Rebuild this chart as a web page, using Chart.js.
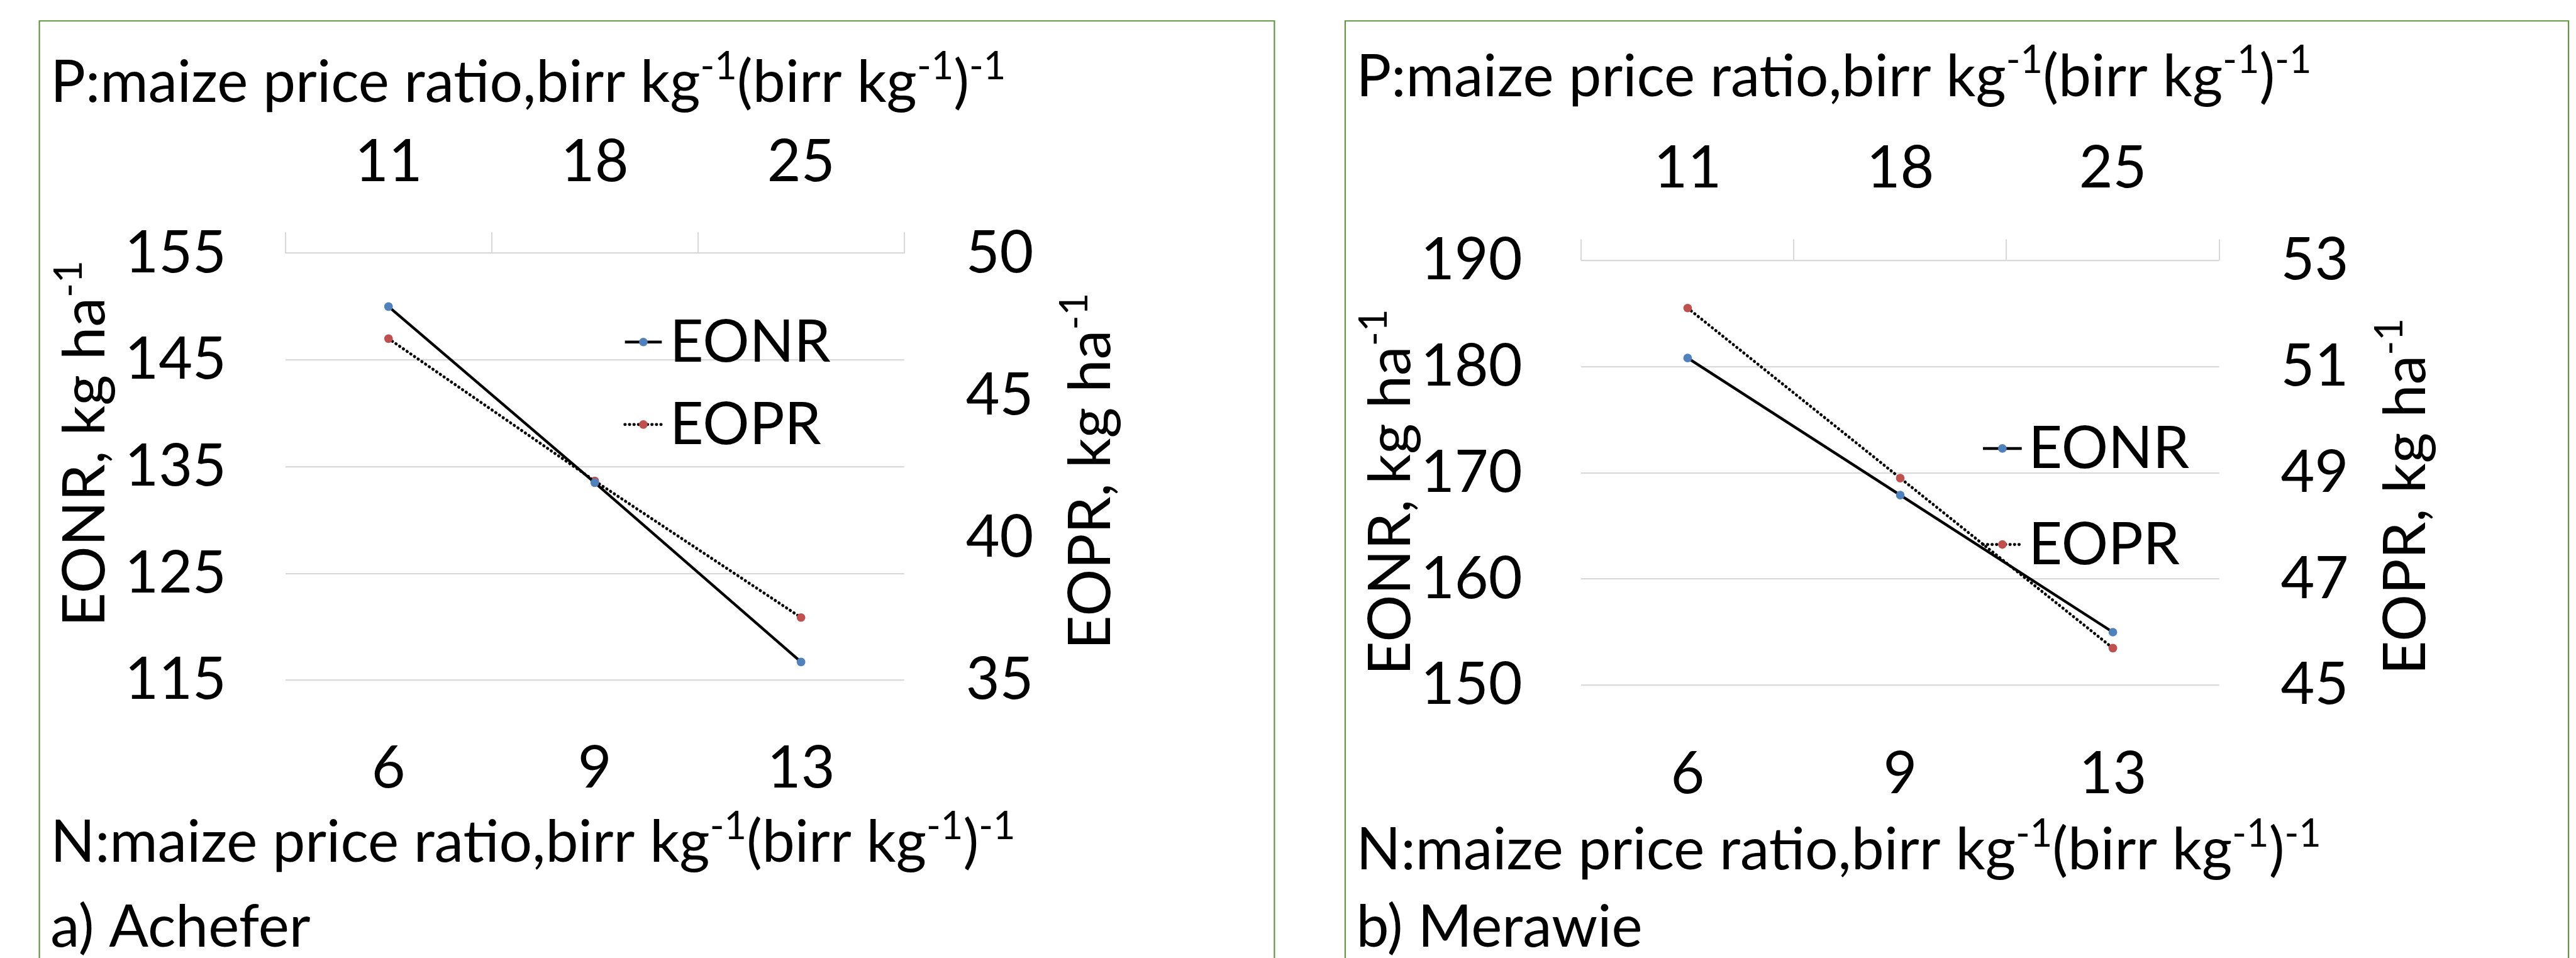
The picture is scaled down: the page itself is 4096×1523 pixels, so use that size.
<!DOCTYPE html>
<html>
<head>
<meta charset="utf-8">
<script src="https://cdn.jsdelivr.net/npm/chart.js@4.4.1/dist/chart.umd.min.js"></script>
<style>
html,body{margin:0;padding:0;background:#fff;width:4096px;height:1523px;overflow:hidden;}
canvas{position:absolute;top:0;}
</style>
</head>
<body>
<canvas id="ca"></canvas>
<canvas id="cb"></canvas>
<script>
// ---------------- data ----------------
const nRatios = ['6', '9', '13'];          // bottom axis: N:maize price ratio
const pRatios = ['11', '18', '25'];        // top axis: P:maize price ratio
const seriesNames = ['EONR', 'EOPR'];

const achEONR = [150.0, 133.5, 116.7];
const achEOPR = [47.0, 42.0, 37.2];
const merEONR = [180.8, 167.9, 155.0];
const merEOPR = [52.1, 48.9, 45.7];

const achLeftTicks = [115, 125, 135, 145, 155];
const achRightTicks = [35, 40, 45, 50];
const merLeftTicks = [150, 160, 170, 180, 190];
const merRightTicks = [45, 47, 49, 51, 53];

const topAxisTitle = [['P:maize price ratio,birr kg', 0], ['-1', 1], ['(birr kg', 0], ['-1', 1], [')', 0], ['-1', 1]];
const bottomAxisTitle = [['N:maize price ratio,birr kg', 0], ['-1', 1], ['(birr kg', 0], ['-1', 1], [')', 0], ['-1', 1]];
const leftAxisTitle = [['EONR, kg ha', 0], ['-1', 1]];
const rightAxisTitle = [['EOPR, kg ha', 0], ['-1', 1]];
const captionA = 'a) Achefer';
const captionB = 'b) Merawie';

// ---------------- layout (reference pixels) ----------------
const S = 0.978;
const H = 1523;
const SPLIT = 2073; // page px where canvas b starts
const FONT = 'Lato, "Open Sans", sans-serif';
const MAINF = 95;
const AXF = 96;

const layoutA = {
  box: [64, 34, 2072], area: [464, 411.6, 1470, 1105.6],
  titleX: 82, titleBase: 166, xTitleBase: 1401, capBase: 1539,
  lTitle: [170, 721], rTitle: [1805, 766],
  legX: [1016, 1076, 1089], legY: [556, 690], topPad: 57, botPad: 79
};
const layoutB = {
  box: [2187, 34, 4176], area: [2571, 423, 3608, 1114],
  titleX: 2205, titleBase: 156, xTitleBase: 1413, capBase: 1539,
  lTitle: [2292, 800], rTitle: [3943, 807],
  legX: [3224, 3287, 3298], legY: [729, 885], topPad: 58, botPad: 80
};

function drawRich(ctx, segs, x, y, size, align) {
  const supScale = 0.66, supRise = 0.39;
  const widths = segs.map(([t, sup]) => {
    ctx.font = (sup ? size * supScale : size) + 'px ' + FONT;
    return ctx.measureText(t).width;
  });
  const total = widths.reduce((a, b) => a + b, 0);
  let cx = align === 'center' ? x - total / 2 : x;
  ctx.textAlign = 'left';
  ctx.textBaseline = 'alphabetic';
  segs.forEach(([t, sup], i) => {
    ctx.font = (sup ? size * supScale : size) + 'px ' + FONT;
    ctx.fillText(t, cx, sup ? y - size * supRise : y);
    cx += widths[i];
  });
}

function makeChart(id, leftPx, widthPx, L, eonr, eopr, lt, rt, caption) {
  const cv = document.getElementById(id);
  cv.width = widthPx; cv.height = H;
  cv.style.left = leftPx + 'px';
  cv.style.width = widthPx + 'px'; cv.style.height = H + 'px';
  const X = v => v * S - leftPx;
  const Y = v => v * S;
  const area = { l: X(L.area[0]), t: Y(L.area[1]), r: X(L.area[2]), b: Y(L.area[3]) };
  const tickFont = { family: FONT, size: MAINF * S };

  const decor = {
    id: 'decor',
    afterDraw(chart) {
      const ctx = chart.ctx;
      ctx.save();
      // panel border
      ctx.strokeStyle = '#5E9640';
      ctx.lineWidth = 2.2 * S;
      ctx.beginPath();
      ctx.moveTo(X(L.box[0]), H + 10);
      ctx.lineTo(X(L.box[0]), Y(L.box[1]));
      ctx.lineTo(X(L.box[2]), Y(L.box[1]));
      ctx.lineTo(X(L.box[2]), H + 10);
      ctx.stroke();
      ctx.fillStyle = '#000';
      drawRich(ctx, topAxisTitle, X(L.titleX), Y(L.titleBase), MAINF * S, 'left');
      drawRich(ctx, bottomAxisTitle, X(L.titleX), Y(L.xTitleBase), MAINF * S, 'left');
      drawRich(ctx, [[caption, 0]], X(L.titleX), Y(L.capBase), MAINF * S, 'left');
      // rotated axis titles
      [[leftAxisTitle, L.lTitle], [rightAxisTitle, L.rTitle]].forEach(([segs, pos]) => {
        ctx.save();
        ctx.translate(X(pos[0]), Y(pos[1]));
        ctx.rotate(-Math.PI / 2);
        drawRich(ctx, segs, 0, 0, AXF * S, 'center');
        ctx.restore();
      });
      // legend
      chart.data.datasets.forEach((ds, i) => {
        const y = Y(L.legY[i]);
        const x0 = X(L.legX[0]), x1 = X(L.legX[1]);
        ctx.save();
        ctx.strokeStyle = ds.borderColor;
        ctx.lineWidth = ds.borderWidth;
        ctx.setLineDash(ds.borderDash || []);
        ctx.lineCap = ds.borderCapStyle || 'butt';
        ctx.beginPath(); ctx.moveTo(x0, y); ctx.lineTo(x1, y); ctx.stroke();
        ctx.setLineDash([]);
        ctx.fillStyle = ds.pointBackgroundColor;
        ctx.beginPath(); ctx.arc((x0 + x1) / 2, y, ds.pointRadius, 0, Math.PI * 2); ctx.fill();
        ctx.fillStyle = '#000';
        ctx.font = (MAINF * S) + 'px ' + FONT;
        ctx.textAlign = 'left'; ctx.textBaseline = 'alphabetic';
        ctx.fillText(ds.label, X(L.legX[2]), y + 32 * S);
        ctx.restore();
      });
      ctx.restore();
    }
  };

  return new Chart(cv, {
    type: 'line',
    data: {
      labels: nRatios,
      datasets: [
        {
          label: seriesNames[0], data: eonr, xAxisID: 'x', yAxisID: 'y',
          borderColor: '#000', borderWidth: 4.5 * S, tension: 0,
          pointRadius: 7 * S, pointHoverRadius: 7 * S, pointBorderWidth: 0,
          pointBackgroundColor: '#4F81BD', pointBorderColor: '#4F81BD', fill: false
        },
        {
          label: seriesNames[1], data: eopr, xAxisID: 'x2', yAxisID: 'y2',
          borderColor: '#000', borderWidth: 4.8 * S, tension: 0,
          borderDash: [0.5 * S, 6.8 * S], borderCapStyle: 'round',
          pointRadius: 7 * S, pointHoverRadius: 7 * S, pointBorderWidth: 0,
          pointBackgroundColor: '#C0504D', pointBorderColor: '#C0504D', fill: false
        }
      ]
    },
    options: {
      responsive: false, animation: false, devicePixelRatio: 1,
      layout: { padding: 0, autoPadding: false },
      plugins: { legend: { display: false }, tooltip: { enabled: false }, title: { display: false } },
      scales: {
        x: {
          type: 'category', position: 'bottom', labels: nRatios, offset: true,
          grid: { display: false }, border: { display: false },
          ticks: { color: '#000', font: tickFont, padding: L.botPad * S, maxRotation: 0, autoSkip: false },
          afterFit: s => { s.height = H - area.b; }
        },
        x2: {
          type: 'category', position: 'top', labels: pRatios, offset: true,
          grid: { display: true, offset: true, drawOnChartArea: false, drawTicks: true, tickLength: 34 * S, color: '#D9D9D9', lineWidth: 2.2 * S },
          border: { display: false },
          ticks: { color: '#000', font: tickFont, padding: L.topPad * S, maxRotation: 0, autoSkip: false },
          afterFit: s => { s.height = area.t; }
        },
        y: {
          type: 'linear', position: 'left', min: lt[0], max: lt[lt.length - 1],
          ticks: { stepSize: lt[1] - lt[0], color: '#000', font: tickFont, padding: 96 * S },
          grid: { color: '#D9D9D9', lineWidth: 2.2 * S, drawTicks: false }, border: { display: false },
          afterFit: s => { s.width = area.l; }
        },
        y2: {
          type: 'linear', position: 'right', min: rt[0], max: rt[rt.length - 1],
          ticks: { stepSize: rt[1] - rt[0], color: '#000', font: tickFont, padding: 92 * S },
          grid: { display: false, drawOnChartArea: false }, border: { display: false },
          afterFit: s => { s.width = widthPx - area.r; }
        }
      }
    },
    plugins: [decor]
  });
}

makeChart('ca', 0, SPLIT, layoutA, achEONR, achEOPR, achLeftTicks, achRightTicks, captionA);
makeChart('cb', SPLIT, 4096 - SPLIT, layoutB, merEONR, merEOPR, merLeftTicks, merRightTicks, captionB);
</script>
</body>
</html>
